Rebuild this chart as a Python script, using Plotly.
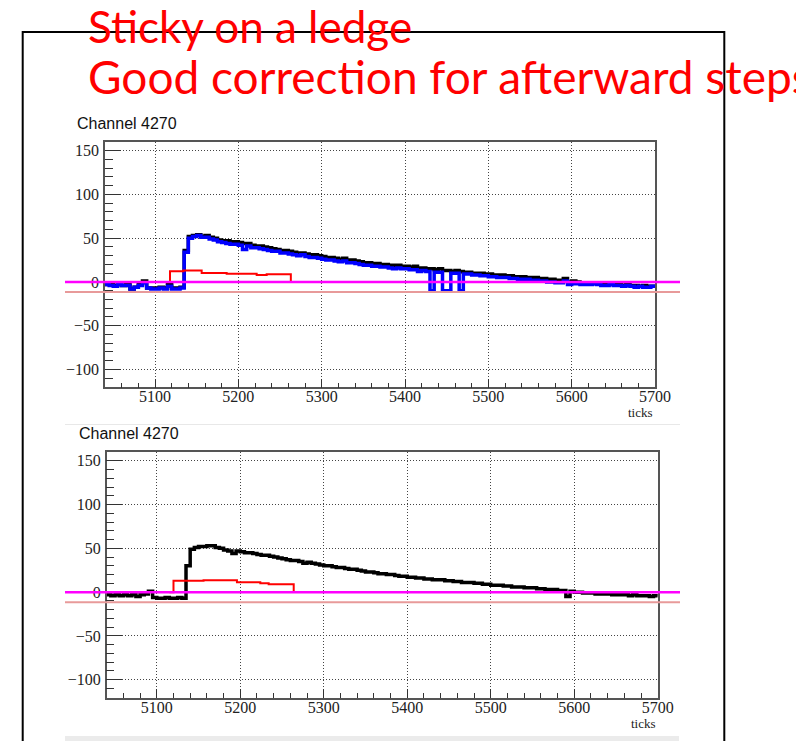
import plotly.graph_objects as go

W, H = 796, 741

# Sample ticks of the digitised waveforms (one value every 5 ticks)
ticks = list(range(5040, 5701, 5))

# Upper panel: raw waveform (black) and corrected waveform (blue)
upper_raw = [
    -3, -2, -4, -3, -4, -3, -8, -6, -2, 1,
    -7, -7, -7, -6, -7, -3, -7, -7, -6, 36,
    52, 53, 54, 52, 53, 51, 50, 48, 47, 47,
    46, 46, 45, 44, 44, 42, 41, 41, 40, 39,
    38, 37, 36, 36, 35, 34, 33, 33, 32, 31,
    31, 30, 29, 28, 28, 27, 26, 27, 25, 25,
    24, 23, 22, 22, 21, 21, 20, 20, 19, 19,
    19, 18, 18, 17, 18, 16, 16, 15, 15, 14,
    15, 13, 13, 12, 13, 12, 11, 11, 10, 10,
    10, 9, 9, 8, 8, 8, 7, 7, 6, 6,
    6, 5, 5, 5, 4, 4, 3, 3, 2, 2,
    4, 0, 1, 0, -1, -1, -2, -1, -2, -2,
    -3, -2, -3, -3, -4, -3, -4, -4, -5, -4,
    -5, -5, -6,
]
upper_corrected = [
    -3, -4, -5, -3, -4, -4, -8, -6, -4, -1,
    -7, -8, -8, -7, -8, -5, -8, -8, -7, 34,
    50, 52, 53, 51, 51, 49, 48, 46, 45, 44,
    43, 43, 42, 37, 41, 39, 39, 38, 37, 36,
    35, 35, 33, 33, 32, 31, 30, 31, 29, 28,
    28, 27, 26, 25, 25, 24, 23, 24, 22, 22,
    21, 20, 19, 19, 18, 18, 17, 17, 16, 15,
    16, 15, 15, 14, 14, 12, 13, 12, -10, 11,
    11, -10, -10, 10, 10, -10, 9, 9, 8, 8,
    7, 7, 6, 6, 5, 5, 5, 4, 4, 3,
    3, 3, 2, 2, 1, 1, 0, 0, -1, -1,
    1, -3, -2, -2, -3, -3, -3, -2, -3, -4,
    -4, -3, -4, -4, -5, -4, -5, -6, -5, -6,
    -6, -5, -7,
]
# Lower panel: waveform after the fix
lower_raw = [
    -3, -4, -3, -4, -3, -4, -3, -5, -3, -2,
    1, -6, -7, -7, -6, -7, -7, -6, -7, 30,
    49, 51, 52, 52, 53, 53, 51, 50, 48, 47,
    44, 47, 46, 45, 45, 44, 43, 42, 42, 41,
    40, 39, 38, 37, 36, 36, 35, 33, 34, 33,
    32, 31, 30, 30, 29, 28, 28, 27, 26, 26,
    25, 24, 23, 23, 22, 21, 21, 20, 20, 19,
    18, 18, 17, 17, 16, 16, 15, 15, 14, 14,
    14, 13, 13, 12, 12, 11, 11, 11, 10, 10,
    9, 9, 8, 8, 8, 7, 7, 6, 6, 6,
    5, 5, 5, 4, 4, 3, 3, 3, 2, 2,
    -5, 1, 0, 0, -1, -1, -1, -2, -2, -2,
    -2, -3, -3, -3, -3, -4, -3, -4, -4, -4,
    -5, -4, -5,
]

# Step ("ledge") estimate, drawn in red
upper_step_ticks = [5112, 5118, 5134, 5156, 5186, 5222, 5234, 5263]
upper_step_vals = [0, 12.2, 13, 10.3, 9.2, 8, 8.8, 0]
lower_step_ticks = [5115, 5120, 5156, 5196, 5224, 5234, 5264]
lower_step_vals = [0, 12.9, 13.6, 11.3, 10.1, 9, 0]

baseline_level = 0
threshold_level = -11.5

title_text = "Channel 4270"
axis_unit = "ticks"
headline = ["Sticky on a ledge", "Good correction for afterward steps"]


def px(x):
    return x / W


def py(y):
    return 1 - y / H


fig = go.Figure()

fig.add_trace(go.Scatter(x=ticks, y=upper_raw, mode="lines", line_shape="hv",
                         line=dict(color="black", width=3.5), xaxis="x", yaxis="y"))
fig.add_trace(go.Scatter(x=ticks, y=upper_corrected, mode="lines", line_shape="hv",
                         line=dict(color="#0000ff", width=3.5), xaxis="x", yaxis="y"))
fig.add_trace(go.Scatter(x=upper_step_ticks, y=upper_step_vals, mode="lines", line_shape="hv",
                         line=dict(color="#ff0000", width=2), xaxis="x", yaxis="y"))
fig.add_trace(go.Scatter(x=ticks, y=lower_raw, mode="lines", line_shape="hv",
                         line=dict(color="black", width=3.5), xaxis="x2", yaxis="y2"))
fig.add_trace(go.Scatter(x=lower_step_ticks, y=lower_step_vals, mode="lines", line_shape="hv",
                         line=dict(color="#ff0000", width=2), xaxis="x2", yaxis="y2"))

GRID_DASH = "1px,2px"


def xaxis(domain, anchor):
    return dict(
        domain=domain, anchor=anchor, range=[5040, 5700],
        tick0=5000, dtick=100, ticks="inside", ticklen=9, tickwidth=1, tickcolor="#333",
        minor=dict(dtick=20, tick0=5000, ticks="inside", ticklen=5, tickcolor="#333", showgrid=False),
        showgrid=True, gridcolor="#444", griddash=GRID_DASH, gridwidth=1,
        showline=True, linecolor="#555", linewidth=1.5, mirror=True, zeroline=False,
        tickfont=dict(family="Liberation Serif", size=16, color="#222"),
        ticklabelstandoff=-6, automargin=False,
    )


def yaxis(domain, anchor):
    return dict(
        domain=domain, anchor=anchor, range=[-120.5, 160.3],
        tick0=0, dtick=50, ticks="inside", ticklen=16, tickwidth=1, tickcolor="#333",
        minor=dict(dtick=10, tick0=0, ticks="inside", ticklen=8, tickcolor="#333", showgrid=False),
        showgrid=True, gridcolor="#444", griddash=GRID_DASH, gridwidth=1,
        showline=True, linecolor="#555", linewidth=1.5, mirror=True, zeroline=False,
        tickfont=dict(family="Liberation Serif", size=16, color="#222"),
        ticklabelstandoff=1, automargin=False,
    )


shapes = []
# slide frame
shapes.append(dict(type="rect", xref="paper", yref="paper",
                   x0=px(22.7), x1=px(724.3), y0=-0.05, y1=py(32),
                   line=dict(color="black", width=2), layer="below"))
# panel separators
shapes.append(dict(type="line", xref="paper", yref="paper", x0=px(65), x1=px(680),
                   y0=py(424.5), y1=py(424.5), line=dict(color="#e8e8e8", width=1)))
shapes.append(dict(type="rect", xref="paper", yref="paper", x0=px(65), x1=px(679),
                   y0=py(741), y1=py(736), fillcolor="#ebebeb", line=dict(width=0)))
# baseline and threshold guides
for yr in ("y", "y2"):
    shapes.append(dict(type="line", xref="paper", yref=yr, x0=px(65), x1=px(680),
                       y0=threshold_level, y1=threshold_level,
                       line=dict(color="#e89a9a", width=2)))
    shapes.append(dict(type="line", xref="paper", yref=yr, x0=px(65), x1=px(680),
                       y0=baseline_level, y1=baseline_level,
                       line=dict(color="#ff00ff", width=2.5)))

annotations = [
    dict(text=title_text, xref="paper", yref="paper", x=px(75), y=py(123.5),
         xanchor="left", yanchor="middle", showarrow=False,
         font=dict(family="Liberation Sans", size=16, color="#111")),
    dict(text=title_text, xref="paper", yref="paper", x=px(77), y=py(433.5),
         xanchor="left", yanchor="middle", showarrow=False,
         font=dict(family="Liberation Sans", size=16, color="#111")),
    dict(text=axis_unit, xref="paper", yref="paper", x=px(655), y=py(412),
         xanchor="right", yanchor="middle", showarrow=False,
         font=dict(family="Liberation Serif", size=13, color="#222")),
    dict(text=axis_unit, xref="paper", yref="paper", x=px(658), y=py(723),
         xanchor="right", yanchor="middle", showarrow=False,
         font=dict(family="Liberation Serif", size=13, color="#222")),
    dict(text=headline[0], xref="paper", yref="paper", x=px(86), y=py(26),
         xanchor="left", yanchor="middle", showarrow=False,
         font=dict(family="Lato", size=44, color="#ff0000")),
    dict(text=headline[1], xref="paper", yref="paper", x=px(86), y=py(77),
         xanchor="left", yanchor="middle", showarrow=False,
         font=dict(family="Lato", size=46, color="#ff0000")),
]

fig.update_layout(
    width=W, height=H, autosize=False,
    margin=dict(l=0, r=0, t=0, b=0, pad=0, autoexpand=False),
    paper_bgcolor="white", plot_bgcolor="white", showlegend=False,
    xaxis=xaxis([px(105), px(655)], "y"),
    yaxis=yaxis([py(387.3), py(141.7)], "x"),
    xaxis2=xaxis([px(106.7), px(657.7)], "y2"),
    yaxis2=yaxis([py(697.7), py(451.7)], "x2"),
    shapes=shapes, annotations=annotations,
)

fig.write_html("out.html", config={"responsive": False})
